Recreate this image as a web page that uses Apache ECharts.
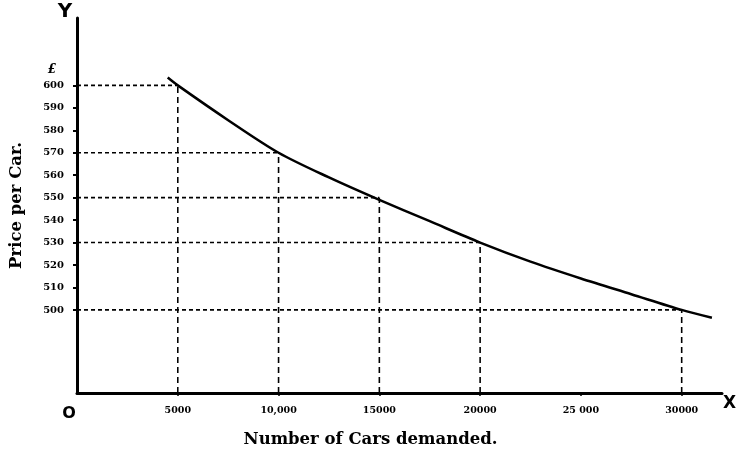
<!DOCTYPE html>
<html>
<head>
<meta charset="utf-8">
<script src="https://cdn.jsdelivr.net/npm/echarts@6/dist/echarts.min.js"></script>
<style>html,body{margin:0;padding:0;background:#fff;}#c{width:736px;height:457px;}</style>
</head>
<body>
<div id="c"></div>
<script>
// Demand curve
const curveX = [4500, 5000, 7500, 10000, 12500, 15000, 17500, 20000, 22500, 25000, 27500, 30000, 31500];
const curveY = [603.5, 600, 584.5, 570, 559, 549, 539.5, 530, 521.5, 514, 507, 500, 496.5];
// Dashed reference points
const refX = [5000, 10000, 15000, 20000, 30000];
const refY = [600, 570, 550, 530, 500];
// Tick labels
const yTicks = [500, 510, 520, 530, 540, 550, 560, 570, 580, 590, 600];
const yCurrencyAt = 607;
const xTicks = [5000, 10000, 15000, 20000, 25000, 30000];
const xTickLabels = ['5000', '10,000', '15000', '20000', '25 000', '30000'];

const Y_MIN = 463, Y_MAX = 630, X_MIN = 0, X_MAX = 32000;

const series = [];
series.push({
  type: 'line', data: curveX.map((x, i) => [x, curveY[i]]), smooth: 0.3,
  showSymbol: false, lineStyle: { color: '#000', width: 2.5 }, z: 5, silent: true
});
refX.forEach((x, i) => {
  const y = refY[i];
  series.push({
    type: 'line', data: [[X_MIN, y], [x, y]], showSymbol: false, silent: true,
    lineStyle: { color: '#000', width: 1.6, type: [4, 3] }, z: 3
  });
  series.push({
    type: 'line', data: [[x, Y_MIN], [x, y]], showSymbol: false, silent: true,
    lineStyle: { color: '#000', width: 1.6, type: [6, 4] }, z: 3
  });
});

const labelFont = 'DejaVu Serif';
const chart = echarts.init(document.getElementById('c'), null, { renderer: 'canvas' });
chart.setOption({
  animation: false,
  backgroundColor: '#fff',
  grid: { left: 77, right: 14, top: 18, bottom: 64, containLabel: false, outerBoundsMode: 'none' },
  xAxis: [{
    type: 'value', min: X_MIN, max: X_MAX,
    name: 'Number of Cars demanded.', nameLocation: 'middle', nameGap: 38,
    nameTextStyle: { fontFamily: labelFont, fontWeight: 'bold', fontSize: 16.5, color: '#000', padding: [0, 58, 0, 0] },
    axisLine: { show: true, lineStyle: { color: '#000', width: 3 } },
    axisTick: { show: true, customValues: xTicks, length: 3, inside: false, lineStyle: { color: '#000', width: 1.5 } },
    axisLabel: {
      show: true, customValues: [0].concat(xTicks), margin: 13,
      fontFamily: labelFont, fontWeight: 'bold', fontSize: 9.5, color: '#000',
      formatter: function (v) {
        if (v === 0) return '{o|O}';
        const i = xTicks.indexOf(v);
        return i >= 0 ? xTickLabels[i] : '';
      },
      rich: { o: { fontFamily: 'DejaVu Sans', fontWeight: 'bold', fontSize: 16, color: '#000', padding: [0, 16, 20, 0] } }
    },
    splitLine: { show: false }
  }, {
    type: 'value', min: X_MIN, max: X_MAX, position: 'bottom',
    name: 'X', nameLocation: 'end', nameGap: 1,
    nameTextStyle: { fontFamily: 'DejaVu Sans', fontWeight: 'bold', fontSize: 17, color: '#000', verticalAlign: 'top', padding: [2, 0, 0, 0] },
    axisLine: { show: false }, axisTick: { show: false }, axisLabel: { show: false }, splitLine: { show: false }
  }],
  yAxis: [{
    type: 'value', min: Y_MIN, max: Y_MAX,
    name: 'Price per Car.', nameLocation: 'middle', nameGap: 52,
    nameTextStyle: { fontFamily: labelFont, fontWeight: 'bold', fontSize: 16.5, color: '#000' },
    axisLine: { show: true, lineStyle: { color: '#000', width: 3 } },
    axisTick: { show: true, customValues: yTicks, length: 4, inside: false, lineStyle: { color: '#000', width: 2 } },
    axisLabel: {
      show: true, customValues: yTicks.concat([yCurrencyAt]), margin: 13,
      fontFamily: labelFont, fontWeight: 'bold', fontSize: 10, color: '#000',
      formatter: function (v) { return v === yCurrencyAt ? '{c|£}' : String(v); },
      rich: { c: { fontFamily: labelFont, fontWeight: 'bold', fontStyle: 'italic', fontSize: 12, color: '#000', padding: [0, 8, 0, 0] } }
    },
    splitLine: { show: false }
  }, {
    type: 'value', min: Y_MIN, max: Y_MAX, position: 'left',
    name: 'Y', nameLocation: 'end', nameGap: -4,
    nameTextStyle: { fontFamily: 'DejaVu Sans', fontWeight: 'bold', fontSize: 20, color: '#000', padding: [0, 24, 0, 0] },
    axisLine: { show: false }, axisTick: { show: false }, axisLabel: { show: false }, splitLine: { show: false }
  }],
  series: series
});
</script>
</body>
</html>
